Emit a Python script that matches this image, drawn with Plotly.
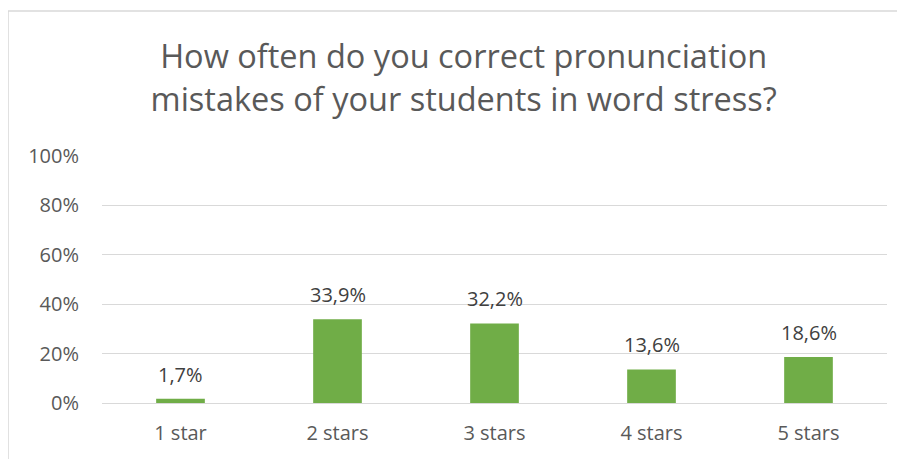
import plotly.graph_objects as go

# answers to the survey question, share of respondents
categories = ["1 star", "2 stars", "3 stars", "4 stars", "5 stars"]
shares = [0.017, 0.339, 0.322, 0.136, 0.186]
y_ticks = [0, 0.2, 0.4, 0.6, 0.8, 1.0]

fig = go.Figure()
fig.add_trace(go.Bar(
    x=categories, y=shares,
    marker=dict(color="#70AD47", line=dict(width=0)),
    hovertemplate="%{x}: %{y:.1%}<extra></extra>",
))

# value labels above the bars
for cat, val in zip(categories, shares):
    fig.add_annotation(x=cat, y=val, text=f"{val * 100:.1f}%".replace(".", ","),
                       showarrow=False, yanchor="bottom", yshift=9,
                       font=dict(size=20, color="#404040"))

# page body has an 8px margin, so the figure is a bit smaller than the window
fig.update_layout(
    width=897, height=451,
    margin=dict(l=94, r=18, t=148, b=56),
    paper_bgcolor="white", plot_bgcolor="white",
    separators=",.",
    font=dict(family="Open Sans", color="#595959"),
    title=dict(
        text="How often do you correct pronunciation<br>mistakes of your students in word stress?",
        x=0.508, xanchor="center", y=0.866, yanchor="middle",
        font=dict(size=32.5, color="#595959"),
    ),
    bargap=0.69,
    showlegend=False,
    shapes=[dict(type="rect", xref="paper", yref="paper",
                 x0=-0.1197, x1=1.2, y0=-0.6, y1=1.587,
                 line=dict(color="#D9D9D9", width=1.5), layer="below")],
)
fig.update_yaxes(range=[0, 1], tickvals=y_ticks, tickformat=".0%",
                 showgrid=True, gridcolor="#D9D9D9", gridwidth=1.3,
                 zeroline=False, showline=False, ticks="",
                 ticklabelstandoff=22, tickfont=dict(size=20, color="#595959"))
fig.update_xaxes(showgrid=False, showline=True, linecolor="#D9D9D9", linewidth=1.3,
                 ticks="", ticklabelstandoff=12,
                 tickfont=dict(size=20, color="#595959"))

fig.write_html("out.html")
